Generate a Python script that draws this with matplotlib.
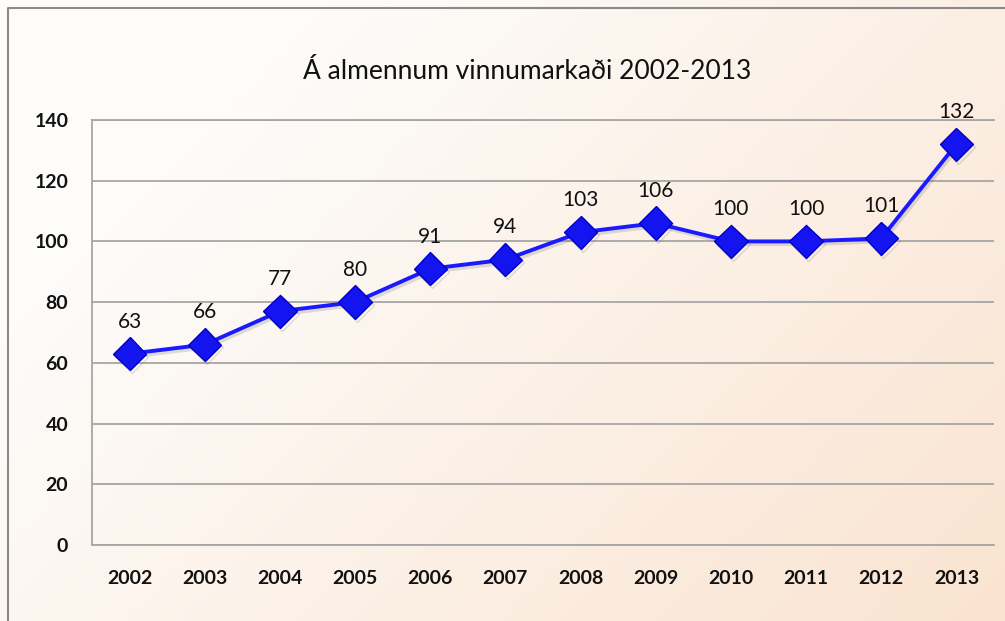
import matplotlib
matplotlib.use("Agg")
import matplotlib.pyplot as plt
import matplotlib.patheffects as pe
import numpy as np

years = ['2002', '2003', '2004', '2005', '2006', '2007',
         '2008', '2009', '2010', '2011', '2012', '2013']
values = [63, 66, 77, 80, 91, 94, 103, 106, 100, 100, 101, 132]
yticks = [0, 20, 40, 60, 80, 100, 120, 140]
title = 'Á almennum vinnumarkaði 2002-2013'

plt.rcParams['font.family'] = ['Lato', 'DejaVu Sans']

fig = plt.figure(figsize=(10.05, 6.21), dpi=100)

# soft white-to-peach background running to the lower right corner
bg = fig.add_axes([0, 0, 1, 1], zorder=-10)
gx, gy = np.meshgrid(np.linspace(0, 1, 300), np.linspace(0, 1, 200))
t = np.clip((gx * 0.75 + gy * 0.45) - 0.25, 0, 1)
c0 = np.array([253, 252, 250]) / 255
c1 = np.array([250, 226, 206]) / 255
img = c0[None, None, :] * (1 - t[..., None]) + c1[None, None, :] * t[..., None]
bg.imshow(img, extent=[0, 1, 0, 1], aspect='auto', origin='upper')
bg.set_xlim(0, 1)
bg.set_ylim(0, 1)
bg.axis('off')
# outer frame
bg.plot([0.008, 0.008, 1.0], [0.0, 0.987, 0.987], color='#8a8a8a', lw=1.5)

ax = fig.add_axes([0.0915, 0.1224, 0.8975, 0.6844])
ax.patch.set_alpha(0)
x = np.arange(len(years))
ax.plot(x, values, color='#1a1aff', lw=2.8, marker='D', markersize=17,
        markerfacecolor='#1414f0', markeredgecolor='#0000c8', markeredgewidth=1,
        path_effects=[pe.SimpleLineShadow(offset=(1.5, -2), alpha=0.18, shadow_color='#555555'),
                      pe.Normal()],
        zorder=3)

for xi, v in zip(x, values):
    ax.annotate(str(v), (xi, v), xytext=(0, 16), textcoords='offset points',
                ha='center', va='bottom', fontsize=15, color='#111111')

ax.set_xlim(-0.5, len(years) - 0.5)
ax.set_ylim(0, 140)
ax.set_yticks(yticks)
ax.set_xticks(x)
ax.set_xticklabels(years)
ax.yaxis.grid(True, color='#a6a6a6', lw=1.3)
ax.set_axisbelow(True)
ax.spines['right'].set_visible(False)
for s in ['left', 'bottom', 'top']:
    ax.spines[s].set_color('#a6a6a6')
    ax.spines[s].set_linewidth(1.3)
ax.tick_params(length=0, labelsize=14, colors='#111111')
ax.tick_params(axis='x', pad=18)
ax.tick_params(axis='y', pad=17)
for lab in ax.get_xticklabels() + ax.get_yticklabels():
    lab.set_fontweight('bold')

fig.text(0.525, 0.885, title, ha='center', va='center', fontsize=19, color='#111111')

fig.savefig('out.png', dpi=100)
